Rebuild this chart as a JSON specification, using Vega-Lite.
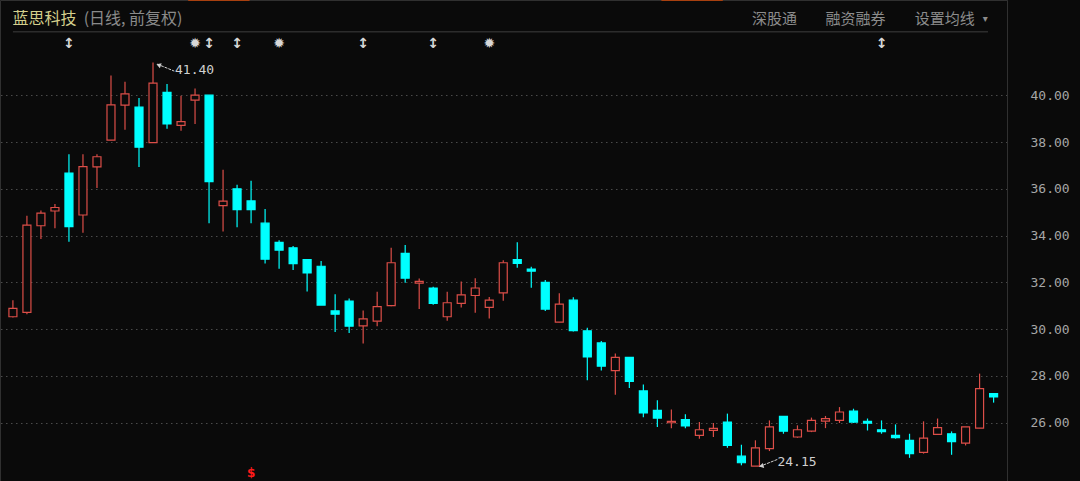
{
  "$schema": "https://vega.github.io/schema/vega-lite/v6.json",
  "autosize": {"type": "none"},
  "padding": {"left": 0, "top": 0, "right": 73, "bottom": 0},
  "width": 1007,
  "height": 481,
  "background": "#0a0a0a",
  "config": {"view": {"stroke": "#303030", "strokeWidth": 1}},
  "datasets": {
    "candles": [
      {"i": 1, "o": 30.53, "h": 31.24, "l": 30.50, "c": 30.89},
      {"i": 2, "o": 30.72, "h": 34.85, "l": 30.64, "c": 34.45},
      {"i": 3, "o": 34.42, "h": 35.07, "l": 33.85, "c": 34.96},
      {"i": 4, "o": 35.05, "h": 35.35, "l": 34.31, "c": 35.20},
      {"i": 5, "o": 36.67, "h": 37.48, "l": 33.74, "c": 34.38},
      {"i": 6, "o": 34.88, "h": 37.48, "l": 34.12, "c": 36.95},
      {"i": 7, "o": 36.94, "h": 37.48, "l": 36.03, "c": 37.37},
      {"i": 8, "o": 38.08, "h": 40.84, "l": 38.08, "c": 39.59},
      {"i": 9, "o": 39.58, "h": 40.58, "l": 38.52, "c": 40.06},
      {"i": 10, "o": 39.49, "h": 39.88, "l": 36.93, "c": 37.78},
      {"i": 11, "o": 37.97, "h": 41.40, "l": 37.97, "c": 40.52},
      {"i": 12, "o": 40.12, "h": 40.48, "l": 38.57, "c": 38.77},
      {"i": 13, "o": 38.71, "h": 39.98, "l": 38.48, "c": 38.87},
      {"i": 14, "o": 39.79, "h": 40.29, "l": 38.77, "c": 40.00},
      {"i": 15, "o": 40.00, "h": 40.00, "l": 34.53, "c": 36.31},
      {"i": 16, "o": 35.28, "h": 36.81, "l": 34.18, "c": 35.47},
      {"i": 17, "o": 36.00, "h": 36.17, "l": 34.36, "c": 35.11},
      {"i": 18, "o": 35.48, "h": 36.34, "l": 34.53, "c": 35.11},
      {"i": 19, "o": 34.53, "h": 35.14, "l": 32.81, "c": 32.99},
      {"i": 20, "o": 33.71, "h": 33.80, "l": 32.58, "c": 33.38},
      {"i": 21, "o": 33.48, "h": 33.55, "l": 32.53, "c": 32.80},
      {"i": 22, "o": 32.97, "h": 32.97, "l": 31.61, "c": 32.40},
      {"i": 23, "o": 32.69, "h": 32.91, "l": 31.03, "c": 31.03},
      {"i": 24, "o": 30.78, "h": 31.49, "l": 29.88, "c": 30.64},
      {"i": 25, "o": 31.20, "h": 31.31, "l": 29.84, "c": 30.13},
      {"i": 26, "o": 30.14, "h": 30.80, "l": 29.39, "c": 30.44},
      {"i": 27, "o": 30.34, "h": 31.60, "l": 30.13, "c": 30.96},
      {"i": 28, "o": 31.01, "h": 33.48, "l": 30.98, "c": 32.84},
      {"i": 29, "o": 33.24, "h": 33.60, "l": 31.98, "c": 32.18},
      {"i": 30, "o": 31.97, "h": 32.17, "l": 30.86, "c": 32.04},
      {"i": 31, "o": 31.76, "h": 31.81, "l": 31.04, "c": 31.10},
      {"i": 32, "o": 30.53, "h": 31.60, "l": 30.36, "c": 31.13},
      {"i": 33, "o": 31.10, "h": 32.04, "l": 30.93, "c": 31.47},
      {"i": 34, "o": 31.44, "h": 32.18, "l": 30.70, "c": 31.76},
      {"i": 35, "o": 30.93, "h": 31.38, "l": 30.46, "c": 31.24},
      {"i": 36, "o": 31.55, "h": 32.95, "l": 31.21, "c": 32.84},
      {"i": 37, "o": 32.97, "h": 33.71, "l": 32.63, "c": 32.81},
      {"i": 38, "o": 32.57, "h": 32.67, "l": 31.77, "c": 32.48},
      {"i": 39, "o": 32.00, "h": 32.10, "l": 30.78, "c": 30.86},
      {"i": 40, "o": 30.30, "h": 31.53, "l": 30.30, "c": 31.07},
      {"i": 41, "o": 31.24, "h": 31.36, "l": 29.90, "c": 29.94},
      {"i": 42, "o": 29.93, "h": 30.06, "l": 27.82, "c": 28.81},
      {"i": 43, "o": 29.41, "h": 29.49, "l": 28.23, "c": 28.42},
      {"i": 44, "o": 28.23, "h": 28.96, "l": 27.20, "c": 28.79},
      {"i": 45, "o": 28.79, "h": 28.79, "l": 27.49, "c": 27.77},
      {"i": 46, "o": 27.36, "h": 27.64, "l": 26.24, "c": 26.42},
      {"i": 47, "o": 26.53, "h": 26.96, "l": 25.82, "c": 26.20},
      {"i": 48, "o": 26.00, "h": 26.57, "l": 25.77, "c": 26.06},
      {"i": 49, "o": 26.13, "h": 26.36, "l": 25.77, "c": 25.86},
      {"i": 50, "o": 25.46, "h": 26.03, "l": 25.32, "c": 25.70},
      {"i": 51, "o": 25.67, "h": 25.99, "l": 25.39, "c": 25.76},
      {"i": 52, "o": 26.03, "h": 26.39, "l": 24.93, "c": 25.03},
      {"i": 53, "o": 24.57, "h": 25.06, "l": 24.18, "c": 24.29},
      {"i": 54, "o": 24.15, "h": 25.25, "l": 24.15, "c": 24.93},
      {"i": 55, "o": 24.89, "h": 26.10, "l": 24.79, "c": 25.82},
      {"i": 56, "o": 26.27, "h": 26.27, "l": 25.53, "c": 25.64},
      {"i": 57, "o": 25.39, "h": 25.89, "l": 25.36, "c": 25.70},
      {"i": 58, "o": 25.64, "h": 26.22, "l": 25.60, "c": 26.10},
      {"i": 59, "o": 26.07, "h": 26.29, "l": 25.77, "c": 26.18},
      {"i": 60, "o": 26.10, "h": 26.67, "l": 25.99, "c": 26.46},
      {"i": 61, "o": 26.50, "h": 26.60, "l": 25.99, "c": 26.03},
      {"i": 62, "o": 26.06, "h": 26.18, "l": 25.67, "c": 25.98},
      {"i": 63, "o": 25.70, "h": 26.10, "l": 25.53, "c": 25.62},
      {"i": 64, "o": 25.46, "h": 25.93, "l": 25.32, "c": 25.36},
      {"i": 65, "o": 25.25, "h": 25.53, "l": 24.50, "c": 24.68},
      {"i": 66, "o": 24.73, "h": 26.06, "l": 24.68, "c": 25.34},
      {"i": 67, "o": 25.50, "h": 26.18, "l": 25.50, "c": 25.79},
      {"i": 68, "o": 25.53, "h": 25.63, "l": 24.63, "c": 25.19},
      {"i": 69, "o": 25.13, "h": 25.82, "l": 25.03, "c": 25.82},
      {"i": 70, "o": 25.77, "h": 28.10, "l": 25.77, "c": 27.46},
      {"i": 71, "o": 27.25, "h": 27.25, "l": 26.86, "c": 27.10}
    ],
    "events": [
      {"i": 5, "sym": "↕"},
      {"i": 14, "sym": "✹"},
      {"i": 15, "sym": "↕"},
      {"i": 17, "sym": "↕"},
      {"i": 20, "sym": "✹"},
      {"i": 26, "sym": "↕"},
      {"i": 31, "sym": "↕"},
      {"i": 35, "sym": "✹"},
      {"i": 63, "sym": "↕"}
    ],
    "signals": [
      {"i": 18, "sym": "$"}
    ]
  },
  "layer": [
    {
      "data": {"name": "candles"},
      "mark": {"type": "tick", "opacity": 0},
      "encoding": {
        "x": {
          "field": "i", "type": "quantitative",
          "scale": {"domain": [0.435, 71.6], "nice": false, "zero": false},
          "axis": {"title": null, "labels": false, "ticks": false, "domain": false, "grid": false}
        },
        "y": {
          "field": "h", "type": "quantitative",
          "scale": {"domain": [23.51, 44.07], "nice": false, "zero": false},
          "axis": {
            "orient": "right", "title": null, "values": [26, 28, 30, 32, 34, 36, 38, 40],
            "format": ".2f", "domain": true, "domainColor": "#303030", "ticks": false,
            "labelPadding": 23, "labelAlign": "left", "labelBaseline": "middle",
            "labelFont": "DejaVu Sans Mono", "labelFontSize": 13, "labelColor": "#a6a6a6",
            "grid": true, "gridColor": "#4a4a4a", "gridDash": [1.5, 3.5], "gridWidth": 1
          }
        }
      }
    },
    {
      "data": {"values": [{}]},
      "mark": {"type": "rule", "color": "#2c2c2c", "strokeWidth": 1.5},
      "encoding": {
        "x": {"datum": 1, "type": "quantitative"},
        "x2": {"datum": 70.6},
        "y": {"datum": 42.71, "type": "quantitative"}
      }
    },
    {
      "data": {"values": [{}]},
      "mark": {"type": "rule", "color": "#a8400f", "strokeWidth": 2},
      "encoding": {
        "x": {"datum": 13.51, "type": "quantitative"},
        "x2": {"datum": 17.89},
        "y": {"datum": 44.07, "type": "quantitative"}
      }
    },
    {
      "data": {"values": [{}]},
      "mark": {"type": "rule", "color": "#a8400f", "strokeWidth": 2},
      "encoding": {
        "x": {"datum": 47.29, "type": "quantitative"},
        "x2": {"datum": 51.67},
        "y": {"datum": 44.07, "type": "quantitative"}
      }
    },
    {
      "data": {"name": "candles"},
      "mark": {"type": "rule", "strokeWidth": 1.2},
      "encoding": {
        "x": {"field": "i", "type": "quantitative"},
        "y": {"field": "l", "type": "quantitative"},
        "y2": {"field": "h"},
        "color": {"condition": {"test": "datum.c >= datum.o", "value": "#dc4e48"}, "value": "#00ffff"}
      }
    },
    {
      "data": {"name": "candles"},
      "mark": {"type": "bar", "size": 8, "strokeWidth": 1.2},
      "encoding": {
        "x": {"field": "i", "type": "quantitative"},
        "y": {"field": "o", "type": "quantitative"},
        "y2": {"field": "c"},
        "fill": {"condition": {"test": "datum.c >= datum.o", "value": "#0a0a0a"}, "value": "#00ffff"},
        "stroke": {"condition": {"test": "datum.c >= datum.o", "value": "#dc4e48"}, "value": "#00ffff"}
      }
    },
    {
      "data": {"name": "events"},
      "mark": {"type": "text", "font": "DejaVu Sans", "fontSize": 14, "fontWeight": "bold", "color": "#d8d8d8", "baseline": "middle", "align": "center"},
      "encoding": {
        "x": {"field": "i", "type": "quantitative"},
        "y": {"datum": 42.19, "type": "quantitative"},
        "text": {"field": "sym"}
      }
    },
    {
      "data": {"name": "signals"},
      "mark": {"type": "text", "font": "DejaVu Sans", "fontSize": 12, "fontWeight": "bold", "color": "#ff1a1a", "baseline": "bottom", "align": "center"},
      "encoding": {
        "x": {"field": "i", "type": "quantitative"},
        "y": {"datum": 23.56, "type": "quantitative"},
        "text": {"field": "sym"}
      }
    },
    {
      "data": {"name": "candles"},
      "transform": [{"filter": "datum.i == 11"}],
      "mark": {"type": "text", "font": "DejaVu Sans Mono", "fontSize": 13, "color": "#d0d0d0", "align": "left", "baseline": "middle", "dx": 22, "dy": 8},
      "encoding": {
        "x": {"field": "i", "type": "quantitative"},
        "y": {"field": "h", "type": "quantitative"},
        "text": {"field": "h", "format": ".2f"}
      }
    },
    {
      "data": {"name": "candles"},
      "transform": [{"filter": "datum.i == 54"}],
      "mark": {"type": "text", "font": "DejaVu Sans Mono", "fontSize": 13, "color": "#d0d0d0", "align": "left", "baseline": "middle", "dx": 22, "dy": -4},
      "encoding": {
        "x": {"field": "i", "type": "quantitative"},
        "y": {"field": "l", "type": "quantitative"},
        "text": {"field": "l", "format": ".2f"}
      }
    },
    {
      "data": {"values": [{}]},
      "mark": {"type": "rule", "color": "#d0d0d0", "strokeWidth": 1, "strokeDash": [3, 1]},
      "encoding": {
        "x": {"datum": 11.3, "type": "quantitative"},
        "x2": {"datum": 12.52},
        "y": {"datum": 41.33, "type": "quantitative"},
        "y2": {"datum": 41.03}
      }
    },
    {
      "data": {"values": [{}]},
      "mark": {"type": "point", "shape": "triangle-left", "filled": true, "size": 28, "angle": 20, "color": "#d0d0d0", "opacity": 1},
      "encoding": {
        "x": {"datum": 11.4, "type": "quantitative"},
        "y": {"datum": 41.29, "type": "quantitative"}
      }
    },
    {
      "data": {"values": [{}]},
      "mark": {"type": "rule", "color": "#d0d0d0", "strokeWidth": 1, "strokeDash": [3, 1]},
      "encoding": {
        "x": {"datum": 54.3, "type": "quantitative"},
        "x2": {"datum": 55.56},
        "y": {"datum": 24.13, "type": "quantitative"},
        "y2": {"datum": 24.43}
      }
    },
    {
      "data": {"values": [{}]},
      "mark": {"type": "point", "shape": "triangle-left", "filled": true, "size": 28, "angle": -15, "color": "#d0d0d0", "opacity": 1},
      "encoding": {
        "x": {"datum": 54.42, "type": "quantitative"},
        "y": {"datum": 24.15, "type": "quantitative"}
      }
    },
    {
      "data": {"values": [{}]},
      "mark": {"type": "text", "text": "蓝思科技", "font": "Noto Sans CJK SC", "fontSize": 16, "color": "#d4cf8c", "align": "left", "baseline": "middle"},
      "encoding": {
        "x": {"datum": 0.97, "type": "quantitative"},
        "y": {"datum": 43.26, "type": "quantitative"}
      }
    },
    {
      "data": {"values": [{}]},
      "mark": {"type": "text", "text": "(日线, 前复权)", "font": "Noto Sans CJK SC", "fontSize": 16, "color": "#8a8a8a", "align": "left", "baseline": "middle"},
      "encoding": {
        "x": {"datum": 6.05, "type": "quantitative"},
        "y": {"datum": 43.26, "type": "quantitative"}
      }
    },
    {
      "data": {"values": [{}]},
      "mark": {"type": "text", "text": "深股通", "font": "Noto Sans CJK SC", "fontSize": 15, "color": "#8c8c8c", "align": "center", "baseline": "middle"},
      "encoding": {
        "x": {"datum": 55.37, "type": "quantitative"},
        "y": {"datum": 43.26, "type": "quantitative"}
      }
    },
    {
      "data": {"values": [{}]},
      "mark": {"type": "text", "text": "融资融券", "font": "Noto Sans CJK SC", "fontSize": 15, "color": "#8c8c8c", "align": "center", "baseline": "middle"},
      "encoding": {
        "x": {"datum": 61.14, "type": "quantitative"},
        "y": {"datum": 43.26, "type": "quantitative"}
      }
    },
    {
      "data": {"values": [{}]},
      "mark": {"type": "text", "text": "设置均线", "font": "Noto Sans CJK SC", "fontSize": 15, "color": "#8c8c8c", "align": "center", "baseline": "middle"},
      "encoding": {
        "x": {"datum": 67.52, "type": "quantitative"},
        "y": {"datum": 43.26, "type": "quantitative"}
      }
    },
    {
      "data": {"values": [{}]},
      "mark": {"type": "text", "text": "▾", "font": "DejaVu Sans", "fontSize": 10, "color": "#8c8c8c", "align": "center", "baseline": "middle"},
      "encoding": {
        "x": {"datum": 70.4, "type": "quantitative"},
        "y": {"datum": 43.26, "type": "quantitative"}
      }
    }
  ]
}
